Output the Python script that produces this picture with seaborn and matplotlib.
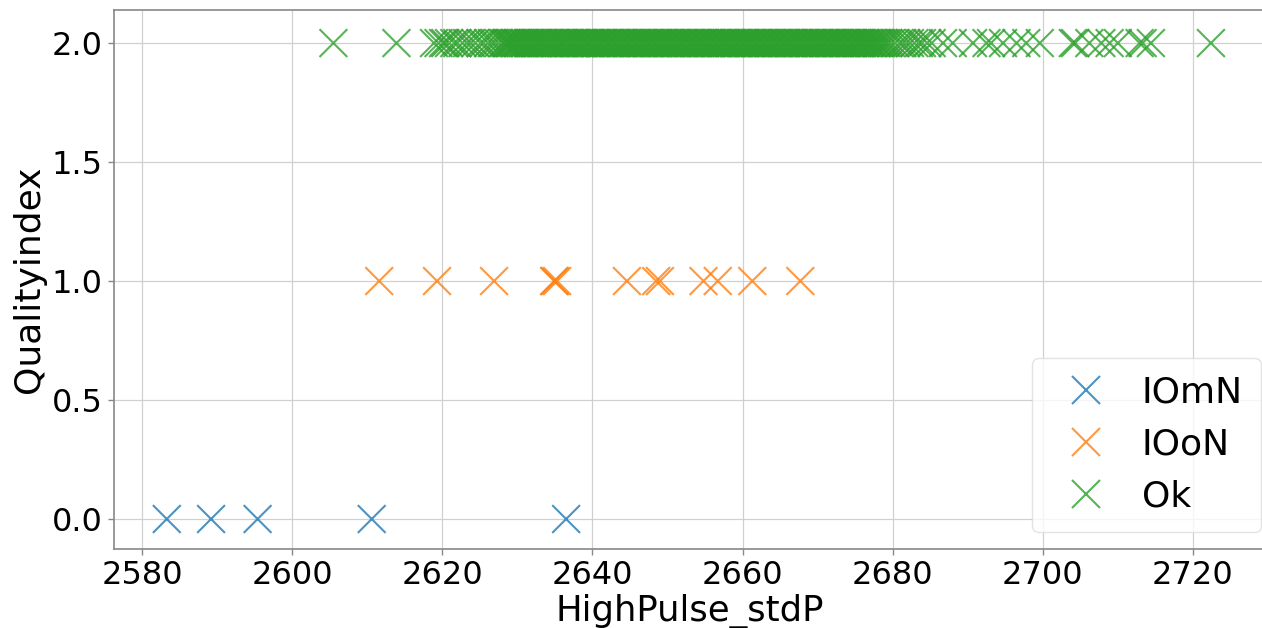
import numpy as np
import pandas as pd
import matplotlib
matplotlib.use("Agg")
import matplotlib.pyplot as plt
import seaborn as sns

# Measured standard deviation of the high pulse, grouped by quality class
iomn_std = [2583.3, 2589.2, 2595.4, 2610.6, 2636.5]

ioon_std = [2611.6, 2619.3, 2626.9, 2634.9, 2635.0, 2635.3, 2644.6,
            2648.5, 2649.0, 2654.8, 2656.7, 2661.3, 2667.7]

ok_std = [
    2605.5, 2613.9,
    2618.9, 2619.5, 2620.1, 2620.4, 2620.9, 2621.6, 2622.0, 2622.7,
    2623.3, 2623.8, 2624.4, 2625.1, 2625.5, 2626.1, 2626.6, 2627.0, 2627.5,
    2628.0, 2628.2, 2628.5, 2628.7, 2628.9,
    2629.1, 2629.3, 2629.6, 2629.8,
    2630.0, 2630.2, 2630.4, 2630.7, 2630.9,
    2631.1, 2631.4, 2631.6, 2631.8,
    2632.0, 2632.3, 2632.5, 2632.7, 2632.9,
    2633.2, 2633.4, 2633.6, 2633.9,
    2634.1, 2634.3, 2634.5, 2634.8,
    2635.0, 2635.2, 2635.5, 2635.7, 2635.9,
    2636.1, 2636.3, 2636.6, 2636.8,
    2637.0, 2637.3, 2637.5, 2637.7, 2637.9,
    2638.2, 2638.4, 2638.6, 2638.8,
    2639.1, 2639.3, 2639.5, 2639.7, 2639.9,
    2640.2, 2640.4, 2640.6, 2640.9,
    2641.1, 2641.3, 2641.5, 2641.8,
    2642.0, 2642.2, 2642.4, 2642.7, 2642.9,
    2643.1, 2643.3, 2643.6, 2643.8,
    2644.0, 2644.2, 2644.5, 2644.7, 2644.9,
    2645.1, 2645.4, 2645.6, 2645.8,
    2646.0, 2646.3, 2646.5, 2646.7, 2646.9,
    2647.2, 2647.4, 2647.6, 2647.8,
    2648.1, 2648.3, 2648.5, 2648.7, 2648.9,
    2649.2, 2649.4, 2649.6, 2649.9,
    2650.1, 2650.3, 2650.5, 2650.8,
    2651.0, 2651.2, 2651.4, 2651.7, 2651.9,
    2652.1, 2652.3, 2652.6, 2652.8,
    2653.0, 2653.2, 2653.5, 2653.7, 2653.9,
    2654.1, 2654.4, 2654.6, 2654.8,
    2655.0, 2655.3, 2655.5, 2655.7, 2655.9,
    2656.2, 2656.4, 2656.6, 2656.8,
    2657.1, 2657.3, 2657.5, 2657.7, 2657.9,
    2658.2, 2658.4, 2658.6, 2658.9,
    2659.1, 2659.3, 2659.5, 2659.8,
    2660.0, 2660.2, 2660.4, 2660.7, 2660.9,
    2661.1, 2661.3, 2661.6, 2661.8,
    2662.0, 2662.2, 2662.5, 2662.7, 2662.9,
    2663.1, 2663.4, 2663.6, 2663.8,
    2664.0, 2664.3, 2664.5, 2664.7, 2664.9,
    2665.2, 2665.4, 2665.6, 2665.8,
    2666.1, 2666.3, 2666.5, 2666.7, 2666.9,
    2667.2, 2667.4, 2667.6, 2667.9,
    2668.1, 2668.3, 2668.5, 2668.8,
    2669.0, 2669.2, 2669.4, 2669.7, 2669.9,
    2670.1, 2670.3, 2670.6, 2670.8,
    2671.0, 2671.2, 2671.5, 2671.7, 2671.9,
    2672.1, 2672.4, 2672.6, 2672.8,
    2673.0, 2673.3, 2673.5, 2673.7, 2673.9,
    2674.2, 2674.4, 2674.6, 2674.8,
    2675.1, 2675.3, 2675.5, 2675.7, 2675.9,
    2676.2, 2676.4, 2676.6, 2676.9,
    2677.1, 2677.3, 2677.5, 2677.8,
    2678.0, 2678.2, 2678.5, 2678.8,
    2679.1, 2679.4,
    2679.8, 2680.3, 2680.9, 2681.3, 2681.8, 2682.3, 2682.9,
    2683.5, 2683.9, 2684.6, 2685.2,
    2686.7, 2688.0, 2690.7, 2692.5, 2693.1, 2694.7, 2696.5, 2697.8,
    2699.6, 2704.0, 2704.3, 2706.2, 2707.8, 2708.9, 2710.0, 2712.9,
    2713.3, 2714.4, 2722.4,
]

class_names = ["IOmN", "IOoN", "Ok"]
class_index = [0.0, 1.0, 2.0]

df = pd.DataFrame({
    "HighPulse_stdP": iomn_std + ioon_std + ok_std,
    "Qualityindex": [class_index[0]] * len(iomn_std)
                    + [class_index[1]] * len(ioon_std)
                    + [class_index[2]] * len(ok_std),
    "Class": [class_names[0]] * len(iomn_std)
             + [class_names[1]] * len(ioon_std)
             + [class_names[2]] * len(ok_std),
})

sns.set_theme(style="whitegrid")
plt.rcParams["font.family"] = ["DejaVu Sans"]
plt.rcParams["text.color"] = "black"

W, H = 1262, 628
fig = plt.figure(figsize=(W / 100, H / 100), dpi=100)
ax = fig.add_axes([114 / W, 79 / H, 1151 / W, 539 / H])

palette = {"IOmN": "#1f77b4", "IOoN": "#ff7f0e", "Ok": "#2ca02c"}
sns.scatterplot(data=df, x="HighPulse_stdP", y="Qualityindex", hue="Class",
                hue_order=class_names, palette=palette, marker="x",
                s=400, linewidth=1.5, alpha=0.8, ax=ax)

ax.set_xlim(2576.27, 2729.6)
ax.set_ylim(-0.126, 2.139)

ax.grid(True, color="#d0d0d0", linewidth=0.9)
for side in ["left", "bottom", "top", "right"]:
    ax.spines[side].set_color("#888888")
    ax.spines[side].set_linewidth(1.2)
ax.tick_params(axis="both", which="major", labelsize=23, length=4,
               width=1, color="#888888", bottom=True, left=True, pad=4,
               labelcolor="black")
ax.set_xlabel("HighPulse_stdP", fontsize=25.5, color="black", labelpad=2)
ax.set_ylabel("Qualityindex", fontsize=26, color="black", labelpad=4)
ax.set_xticks([2580, 2600, 2620, 2640, 2660, 2680, 2700, 2720])
ax.set_yticks([0.0, 0.5, 1.0, 1.5, 2.0])
ax.set_yticklabels(["0.0", "0.5", "1.0", "1.5", "2.0"])

leg = ax.legend(loc="lower right", fontsize=26, title=None,
                bbox_to_anchor=(1261 / W, 96 / H),
                bbox_transform=fig.transFigure, borderaxespad=0,
                handletextpad=0.55, borderpad=0.5, labelspacing=0.5,
                frameon=True, labelcolor="black")
leg.get_frame().set_edgecolor("#dddddd")

fig.savefig("out.png", dpi=100)
